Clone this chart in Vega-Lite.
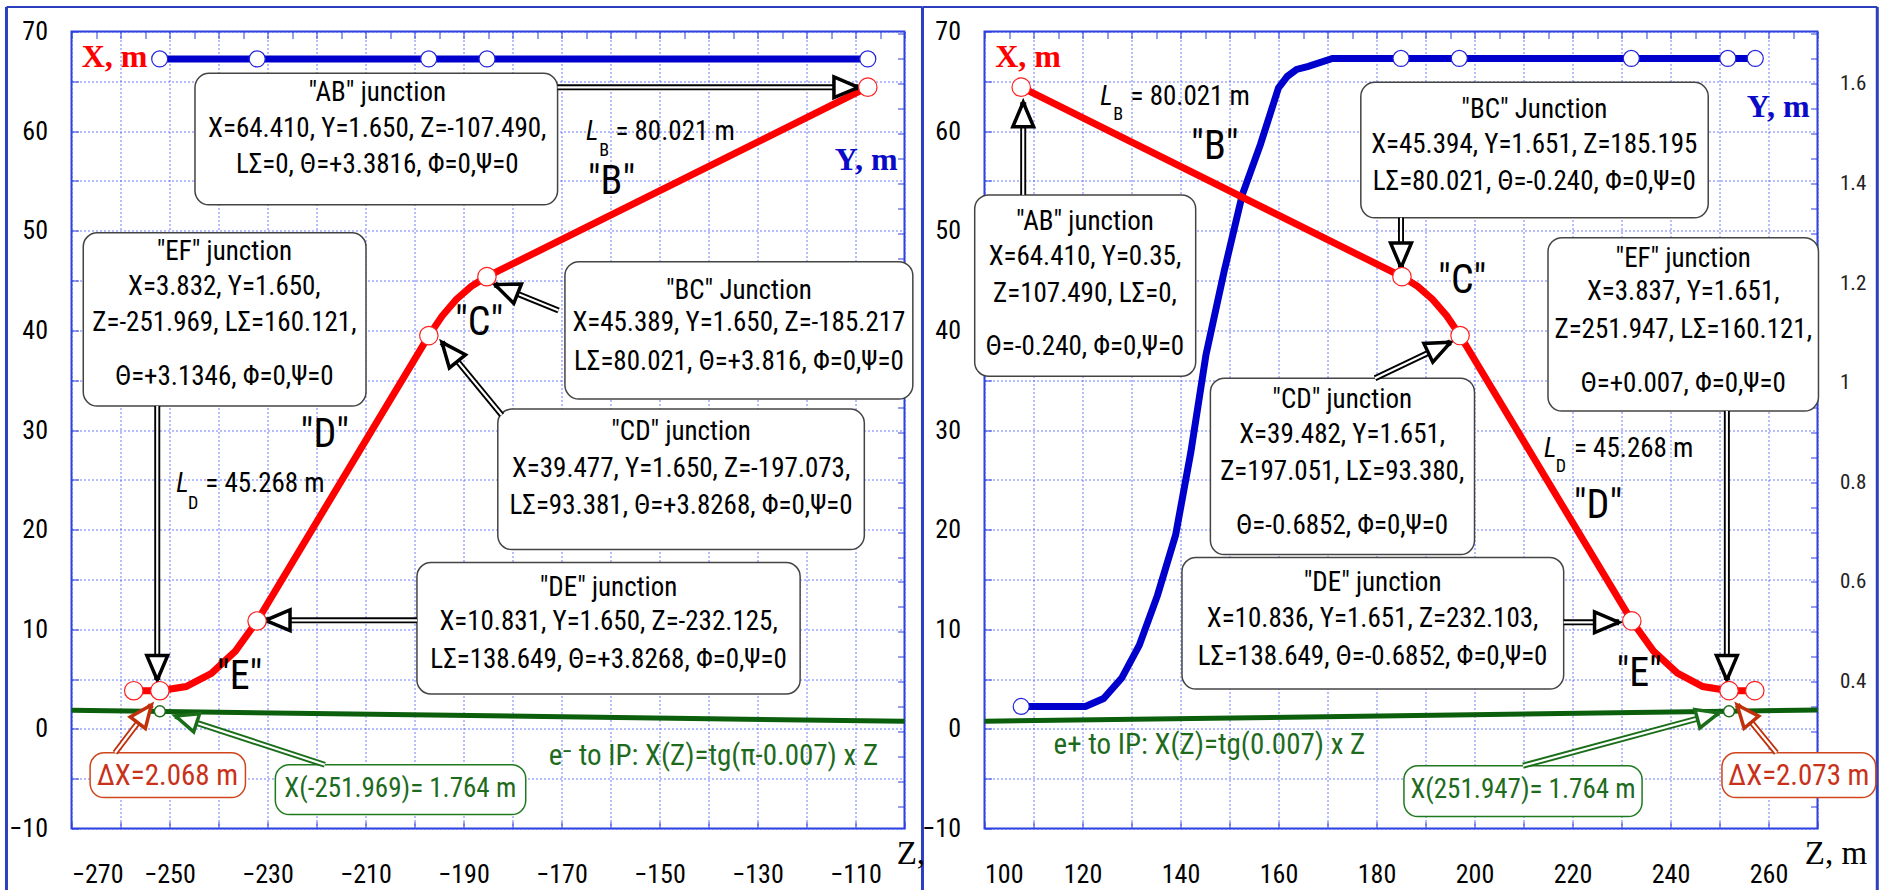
{
  "$schema": "https://vega.github.io/schema/vega-lite/v6.json",
  "background": "white",
  "padding": {"left": 3.5, "top": 3.5, "right": 0, "bottom": 0},
  "spacing": 80,
  "bounds": "flush",
  "datasets": {
    "blueL": [{"Z": -252.2, "Y": 1.65}, {"Z": -107.49, "Y": 1.65}],
    "blueCL": [{"Z": -252.0, "Y": 1.65}, {"Z": -232.1, "Y": 1.65}, {"Z": -197.1, "Y": 1.65}, {"Z": -185.2, "Y": 1.65}, {"Z": -107.49, "Y": 1.65}],
    "greenL": [{"Z": -270, "X": 1.86}, {"Z": -100, "X": 0.76}],
    "redL": [{"Z": -107.49, "X": 64.41}, {"Z": -185.217, "X": 45.389}, {"Z": -188.41, "X": 44.42}, {"Z": -191.47, "X": 43.1}, {"Z": -194.37, "X": 41.44}, {"Z": -197.073, "X": 39.477}, {"Z": -232.125, "X": 10.831}, {"Z": -236.55, "X": 7.81}, {"Z": -241.43, "X": 5.58}, {"Z": -246.62, "X": 4.25}, {"Z": -251.969, "X": 3.832}, {"Z": -257.3, "X": 3.832}],
    "redCL": [{"Z": -107.49, "X": 64.41}, {"Z": -185.217, "X": 45.389}, {"Z": -197.073, "X": 39.477}, {"Z": -232.125, "X": 10.831}, {"Z": -251.969, "X": 3.832}, {"Z": -257.3, "X": 3.832}],
    "greenPL": [{"Z": -251.969, "X": 1.764}],
    "boxL": [
      {"Z": -244.8, "Z2": -170.8, "X": 52.6, "X2": 65.8},
      {"Z": -267.6, "Z2": -209.9, "X": 32.4, "X2": 49.8},
      {"Z": -169.3, "Z2": -98.3, "X": 33.1, "X2": 46.9},
      {"Z": -183.0, "Z2": -108.2, "X": 18.0, "X2": 32.1},
      {"Z": -199.5, "Z2": -121.3, "X": 3.5, "X2": 16.7}
    ],
    "redBoxL": [{"Z": -266.2, "Z2": -234.5, "X": -6.9, "X2": -2.4}],
    "greenBoxL": [{"Z": -228.4, "Z2": -177.3, "X": -8.6, "X2": -3.6}],
    "arrL": [
      {"Z": -170.8, "X": 64.4, "Z2": -109.4, "X2": 64.4, "ang": 0},
      {"Z": -252.5, "X": 32.4, "Z2": -252.5, "X2": 4.9, "ang": 90},
      {"Z": -170.6, "X": 42.0, "Z2": -183.6, "X2": 44.6, "ang": 201.8},
      {"Z": -182.2, "X": 31.5, "Z2": -194.4, "X2": 38.8, "ang": 230.8},
      {"Z": -199.5, "X": 10.9, "Z2": -230.4, "X2": 10.9, "ang": 180}
    ],
    "arrRedL": [{"Z": -261.1, "X": -2.4, "Z2": -253.7, "X2": 2.4, "ang": 307.4}],
    "arrGreenL": [{"Z": -218.3, "X": -3.6, "Z2": -248.8, "X2": 1.3, "ang": 198.1}],
    "txtL": [
      {"Z": -207.6, "X": 63.8, "t": "\"AB\" junction"},
      {"Z": -207.6, "X": 60.2, "t": "X=64.410, Y=1.650, Z=-107.490,"},
      {"Z": -207.6, "X": 56.6, "t": "LΣ=0, Θ=+3.3816, Φ=0,Ψ=0"},
      {"Z": -238.8, "X": 47.9, "t": "\"EF\" junction"},
      {"Z": -238.8, "X": 44.35, "t": "X=3.832, Y=1.650,"},
      {"Z": -238.8, "X": 40.7, "t": "Z=-251.969, LΣ=160.121,"},
      {"Z": -238.8, "X": 35.3, "t": "Θ=+3.1346, Φ=0,Ψ=0"},
      {"Z": -133.8, "X": 44.0, "t": "\"BC\" Junction"},
      {"Z": -133.8, "X": 40.7, "t": "X=45.389, Y=1.650, Z=-185.217"},
      {"Z": -133.8, "X": 36.8, "t": "LΣ=80.021, Θ=+3.816, Φ=0,Ψ=0"},
      {"Z": -145.6, "X": 29.8, "t": "\"CD\" junction"},
      {"Z": -145.6, "X": 26.1, "t": "X=39.477, Y=1.650, Z=-197.073,"},
      {"Z": -145.6, "X": 22.4, "t": "LΣ=93.381, Θ=+3.8268, Φ=0,Ψ=0"},
      {"Z": -160.4, "X": 14.1, "t": "\"DE\" junction"},
      {"Z": -160.4, "X": 10.7, "t": "X=10.831, Y=1.650, Z=-232.125,"},
      {"Z": -160.4, "X": 6.9, "t": "LΣ=138.649, Θ=+3.8268, Φ=0,Ψ=0"}
    ],
    "redTxtL": [{"Z": -250.4, "X": -4.7, "t": "ΔX=2.068 m"}],
    "greenTxtL": [{"Z": -202.9, "X": -6.0, "t": "X(-251.969)= 1.764 m"}],
    "formulaL": [{"Z": -139.0, "X": -2.7, "t": "e⁻ to IP: X(Z)=tg(π-0.007) x Z"}],
    "quoteL": [{"Z": -159.8, "X": 54.9, "t": "\"B\""}, {"Z": -186.8, "X": 40.7, "t": "\"C\""}, {"Z": -218.3, "X": 29.5, "t": "\"D\""}, {"Z": -235.7, "X": 5.2, "t": "\"E\""}],
    "lL": [{"Z": -165.0, "X": 59.9, "t": "L"}, {"Z": -248.6, "X": 24.6, "t": "L"}],
    "subL": [{"Z": -162.3, "X": 58.0, "t": "B"}, {"Z": -246.2, "X": 22.6, "t": "D"}],
    "eqL": [{"Z": -159.0, "X": 59.9, "t": "= 80.021 m"}, {"Z": -242.7, "X": 24.6, "t": "= 45.268 m"}],
    "xmL": [{"Z": -261.2, "X": 67.4, "t": "X, m"}],
    "ymL": [{"Z": -101.4, "X": 57.1, "t": "Y, m"}],
    "zL": [{"Z": -101.6, "X": -12.6, "t": "Z,"}],

    "blueR": [{"Z": 107.49, "Y": 0.35}, {"Z": 120.6, "Y": 0.35}, {"Z": 124.3, "Y": 0.366}, {"Z": 128, "Y": 0.407}, {"Z": 131.6, "Y": 0.473}, {"Z": 135.3, "Y": 0.573}, {"Z": 139, "Y": 0.694}, {"Z": 142.1, "Y": 0.86}, {"Z": 145.2, "Y": 1.056}, {"Z": 148.9, "Y": 1.223}, {"Z": 152.6, "Y": 1.377}, {"Z": 156.3, "Y": 1.478}, {"Z": 160, "Y": 1.592}, {"Z": 161.8, "Y": 1.615}, {"Z": 163.7, "Y": 1.629}, {"Z": 166.1, "Y": 1.635}, {"Z": 171, "Y": 1.651}, {"Z": 257.3, "Y": 1.651}],
    "blueCR": [{"Z": 107.49, "Y": 0.35}, {"Z": 185.0, "Y": 1.651}, {"Z": 196.9, "Y": 1.651}, {"Z": 232.0, "Y": 1.651}, {"Z": 251.7, "Y": 1.651}, {"Z": 257.3, "Y": 1.651}],
    "greenR": [{"Z": 100, "X": 0.76}, {"Z": 270, "X": 1.9}],
    "redR": [{"Z": 107.49, "X": 64.41}, {"Z": 185.195, "X": 45.394}, {"Z": 188.39, "X": 44.42}, {"Z": 191.45, "X": 43.1}, {"Z": 194.35, "X": 41.45}, {"Z": 197.051, "X": 39.482}, {"Z": 232.103, "X": 10.836}, {"Z": 236.53, "X": 7.81}, {"Z": 241.4, "X": 5.59}, {"Z": 246.59, "X": 4.25}, {"Z": 251.947, "X": 3.837}, {"Z": 257.2, "X": 3.837}],
    "redCR": [{"Z": 107.49, "X": 64.41}, {"Z": 185.195, "X": 45.394}, {"Z": 197.051, "X": 39.482}, {"Z": 232.103, "X": 10.836}, {"Z": 251.947, "X": 3.837}, {"Z": 257.2, "X": 3.837}],
    "greenPR": [{"Z": 251.947, "X": 1.764}],
    "boxR": [
      {"Z": 98.0, "Z2": 143.1, "X": 35.4, "X2": 53.6},
      {"Z": 176.8, "Z2": 247.7, "X": 51.3, "X2": 64.9},
      {"Z": 215.0, "Z2": 270.2, "X": 31.9, "X2": 49.3},
      {"Z": 146.1, "Z2": 200.0, "X": 17.5, "X2": 35.2},
      {"Z": 140.3, "Z2": 218.2, "X": 4.0, "X2": 17.2}
    ],
    "redBoxR": [{"Z": 250.5, "Z2": 281.9, "X": -6.9, "X2": -2.4}],
    "greenBoxR": [{"Z": 185.6, "Z2": 234.2, "X": -8.8, "X2": -3.7}],
    "arrR": [
      {"Z": 107.9, "X": 53.6, "Z2": 107.9, "X2": 62.9, "ang": 270},
      {"Z": 185.0, "X": 51.3, "Z2": 185.0, "X2": 46.3, "ang": 90},
      {"Z": 179.7, "X": 35.2, "Z2": 195.1, "X2": 38.8, "ang": 334.7},
      {"Z": 218.2, "X": 10.7, "Z2": 229.5, "X2": 10.7, "ang": 0},
      {"Z": 251.5, "X": 31.9, "Z2": 251.5, "X2": 4.9, "ang": 90}
    ],
    "arrRedR": [{"Z": 261.6, "X": -2.4, "Z2": 253.6, "X2": 2.4, "ang": 230.3}],
    "arrGreenR": [{"Z": 209.9, "X": -3.7, "Z2": 249.9, "X2": 1.6, "ang": 344.9}],
    "txtR": [
      {"Z": 120.5, "X": 50.9, "t": "\"AB\" junction"},
      {"Z": 120.5, "X": 47.4, "t": "X=64.410, Y=0.35,"},
      {"Z": 120.5, "X": 43.7, "t": "Z=107.490, LΣ=0,"},
      {"Z": 120.5, "X": 38.3, "t": "Θ=-0.240, Φ=0,Ψ=0"},
      {"Z": 212.2, "X": 62.1, "t": "\"BC\" Junction"},
      {"Z": 212.2, "X": 58.6, "t": "X=45.394, Y=1.651, Z=185.195"},
      {"Z": 212.2, "X": 54.9, "t": "LΣ=80.021, Θ=-0.240, Φ=0,Ψ=0"},
      {"Z": 242.6, "X": 47.2, "t": "\"EF\" junction"},
      {"Z": 242.6, "X": 43.85, "t": "X=3.837, Y=1.651,"},
      {"Z": 242.6, "X": 40.0, "t": "Z=251.947, LΣ=160.121,"},
      {"Z": 242.6, "X": 34.6, "t": "Θ=+0.007, Φ=0,Ψ=0"},
      {"Z": 173.0, "X": 33.0, "t": "\"CD\" junction"},
      {"Z": 173.0, "X": 29.5, "t": "X=39.482, Y=1.651,"},
      {"Z": 173.0, "X": 25.8, "t": "Z=197.051, LΣ=93.380,"},
      {"Z": 173.0, "X": 20.4, "t": "Θ=-0.6852, Φ=0,Ψ=0"},
      {"Z": 179.2, "X": 14.6, "t": "\"DE\" junction"},
      {"Z": 179.2, "X": 11.0, "t": "X=10.836, Y=1.651, Z=232.103,"},
      {"Z": 179.2, "X": 7.2, "t": "LΣ=138.649, Θ=-0.6852, Φ=0,Ψ=0"}
    ],
    "redTxtR": [{"Z": 266.2, "X": -4.7, "t": "ΔX=2.073 m"}],
    "greenTxtR": [{"Z": 209.9, "X": -6.1, "t": "X(251.947)= 1.764 m"}],
    "formulaR": [{"Z": 145.9, "X": -1.6, "t": "e+ to IP: X(Z)=tg(0.007) x Z"}],
    "quoteR": [{"Z": 147.0, "X": 58.4, "t": "\"B\""}, {"Z": 197.5, "X": 45.0, "t": "\"C\""}, {"Z": 225.2, "X": 22.4, "t": "\"D\""}, {"Z": 233.6, "X": 5.5, "t": "\"E\""}],
    "lR": [{"Z": 123.6, "X": 63.4, "t": "L"}, {"Z": 214.2, "X": 28.1, "t": "L"}],
    "subR": [{"Z": 126.3, "X": 61.6, "t": "B"}, {"Z": 216.6, "X": 26.3, "t": "D"}],
    "eqR": [{"Z": 129.8, "X": 63.4, "t": "= 80.021 m"}, {"Z": 220.3, "X": 28.1, "t": "= 45.268 m"}],
    "xmR": [{"Z": 108.9, "X": 67.4, "t": "X, m"}],
    "ymR": [{"Z": 268.4, "X": 62.4, "t": "Y, m"}],
    "zR": [{"Z": 267.4, "X": -12.6, "t": "Z, m"}]
  },
  "hconcat": [
    {
      "width": 833,
      "height": 797,
      "layer": [
        {
          "encoding": {
            "x": {"field": "Z", "type": "quantitative", "title": null, "scale": {"domain": [-270, -100], "nice": false, "zero": false},
              "axis": {"orient": "top", "values": [-270, -265, -260, -255, -250, -245, -240, -235, -230, -225, -220, -215, -210, -205, -200, -195, -190, -185, -180, -175, -170, -165, -160, -155, -150, -145, -140, -135, -130, -125, -120, -115, -110, -105, -100], "labels": false, "grid": false}},
            "y": {"field": "Y", "type": "quantitative", "title": null, "scale": {"domain": [0.105, 1.705], "nice": false, "zero": false},
              "axis": {"orient": "right", "values": [0.15, 0.2, 0.25, 0.3, 0.35, 0.4, 0.45, 0.5, 0.55, 0.6, 0.65, 0.7, 0.75, 0.8, 0.85, 0.9, 0.95, 1, 1.05, 1.1, 1.15, 1.2, 1.25, 1.3, 1.35, 1.4, 1.45, 1.5, 1.55, 1.6, 1.65, 1.7], "labels": false, "grid": false}}
          },
          "layer": [
            {"data": {"name": "blueL"}, "mark": {"type": "line", "color": "#0000cc", "strokeWidth": 7}},
            {"data": {"name": "blueCL"}, "mark": {"type": "point", "shape": "circle", "size": 256, "filled": true, "fill": "white", "stroke": "#2222dd", "strokeWidth": 1.2, "opacity": 1}}
          ]
        },
        {
          "layer": [
            {
              "layer": [
                {"data": {"values": [{}]}, "mark": {"type": "rule", "color": "#2c3fbf", "strokeWidth": 3}, "encoding": {"x": {"datum": -96.33, "type": "quantitative", "title": null}, "y": {"datum": 72.46, "type": "quantitative", "title": null}, "y2": {"datum": -16.4}}},
                {"data": {"values": [{}]}, "mark": {"type": "rule", "color": "#2c3fbf", "strokeWidth": 3}, "encoding": {"x": {"datum": -283.27, "type": "quantitative", "title": null}, "y": {"datum": 72.46, "type": "quantitative", "title": null}, "y2": {"datum": -16.4}}},
                {"data": {"values": [{}]}, "mark": {"type": "rule", "color": "#2c3fbf", "strokeWidth": 2}, "encoding": {"x": {"datum": -283.27, "type": "quantitative", "title": null}, "x2": {"datum": -96.33}, "y": {"datum": 72.46, "type": "quantitative", "title": null}}}
              ]
            },
            {
              "encoding": {
                "x": {"field": "Z", "type": "quantitative", "title": null, "scale": {"domain": [-270, -100], "nice": false, "zero": false},
                  "axis": {"orient": "bottom", "values": [-270, -260, -250, -240, -230, -220, -210, -200, -190, -180, -170, -160, -150, -140, -130, -120, -110, -100], "labelExpr": "abs(datum.value) % 20 == 10 ? datum.label : ''", "grid": true}},
                "y": {"field": "X", "type": "quantitative", "title": null, "scale": {"domain": [-10, 70], "nice": false, "zero": false},
                  "axis": {"values": [-10, -5, 0, 5, 10, 15, 20, 25, 30, 35, 40, 45, 50, 55, 60, 65, 70], "labelExpr": "datum.value % 10 == 0 ? datum.label : ''", "grid": true}}
              },
              "layer": [
                {"data": {"name": "greenL"}, "mark": {"type": "line", "color": "#0b5e0b", "strokeWidth": 5}},
                {"data": {"name": "redL"}, "mark": {"type": "line", "color": "#ff0000", "strokeWidth": 7}},
                {"data": {"name": "boxL"}, "mark": {"type": "rect", "fill": "white", "stroke": "#444444", "strokeWidth": 1.5, "cornerRadius": 14}, "encoding": {"x2": {"field": "Z2"}, "y2": {"field": "X2"}}},
                {"data": {"name": "redBoxL"}, "mark": {"type": "rect", "fill": "white", "stroke": "#d0451b", "strokeWidth": 1.5, "cornerRadius": 14}, "encoding": {"x2": {"field": "Z2"}, "y2": {"field": "X2"}}},
                {"data": {"name": "greenBoxL"}, "mark": {"type": "rect", "fill": "white", "stroke": "#1f7a1f", "strokeWidth": 1.5, "cornerRadius": 14}, "encoding": {"x2": {"field": "Z2"}, "y2": {"field": "X2"}}},
                {"data": {"name": "arrL"}, "mark": {"type": "rule", "color": "#000000", "strokeWidth": 6}, "encoding": {"x2": {"field": "Z2"}, "y2": {"field": "X2"}}},
                {"data": {"name": "arrL"}, "mark": {"type": "rule", "color": "#ffffff", "strokeWidth": 2.2}, "encoding": {"x2": {"field": "Z2"}, "y2": {"field": "X2"}}},
                {"data": {"name": "arrRedL"}, "mark": {"type": "rule", "color": "#c0300a", "strokeWidth": 6}, "encoding": {"x2": {"field": "Z2"}, "y2": {"field": "X2"}}},
                {"data": {"name": "arrRedL"}, "mark": {"type": "rule", "color": "#ffffff", "strokeWidth": 2.2}, "encoding": {"x2": {"field": "Z2"}, "y2": {"field": "X2"}}},
                {"data": {"name": "arrGreenL"}, "mark": {"type": "rule", "color": "#1a6e1a", "strokeWidth": 6}, "encoding": {"x2": {"field": "Z2"}, "y2": {"field": "X2"}}},
                {"data": {"name": "arrGreenL"}, "mark": {"type": "rule", "color": "#ffffff", "strokeWidth": 2.2}, "encoding": {"x2": {"field": "Z2"}, "y2": {"field": "X2"}}},
                {"data": {"name": "arrL"}, "mark": {"type": "point", "shape": "M0,0L-2,-0.85L-2,0.85Z", "size": 600, "filled": true, "fill": "white", "stroke": "#000000", "strokeWidth": 3.5, "opacity": 1}, "encoding": {"x": {"field": "Z2", "type": "quantitative"}, "y": {"field": "X2", "type": "quantitative"}, "angle": {"field": "ang", "type": "quantitative", "scale": null}}},
                {"data": {"name": "arrRedL"}, "mark": {"type": "point", "shape": "M0,0L-2,-0.85L-2,0.85Z", "size": 500, "filled": true, "fill": "white", "stroke": "#c0300a", "strokeWidth": 3.5, "opacity": 1}, "encoding": {"x": {"field": "Z2", "type": "quantitative"}, "y": {"field": "X2", "type": "quantitative"}, "angle": {"field": "ang", "type": "quantitative", "scale": null}}},
                {"data": {"name": "arrGreenL"}, "mark": {"type": "point", "shape": "M0,0L-2,-0.85L-2,0.85Z", "size": 500, "filled": true, "fill": "white", "stroke": "#1a6e1a", "strokeWidth": 3.5, "opacity": 1}, "encoding": {"x": {"field": "Z2", "type": "quantitative"}, "y": {"field": "X2", "type": "quantitative"}, "angle": {"field": "ang", "type": "quantitative", "scale": null}}},
                {"data": {"name": "redCL"}, "mark": {"type": "point", "shape": "circle", "size": 340, "filled": true, "fill": "white", "stroke": "#ff2020", "strokeWidth": 1.2, "opacity": 1}},
                {"data": {"name": "greenPL"}, "mark": {"type": "point", "shape": "circle", "size": 120, "filled": true, "fill": "white", "stroke": "#1a6e1a", "strokeWidth": 1.5, "opacity": 1}},
                {"data": {"name": "txtL"}, "mark": {"type": "text", "font": "Roboto Condensed, Liberation Sans Narrow, Liberation Sans, sans-serif", "fontSize": 27, "align": "center", "baseline": "middle", "color": "#000000"}, "encoding": {"text": {"field": "t"}}},
                {"data": {"name": "redTxtL"}, "mark": {"type": "text", "font": "Roboto Condensed, Liberation Sans Narrow, Liberation Sans, sans-serif", "fontSize": 29, "align": "center", "baseline": "middle", "color": "#c8321a"}, "encoding": {"text": {"field": "t"}}},
                {"data": {"name": "greenTxtL"}, "mark": {"type": "text", "font": "Roboto Condensed, Liberation Sans Narrow, Liberation Sans, sans-serif", "fontSize": 27, "align": "center", "baseline": "middle", "color": "#1e6b1e"}, "encoding": {"text": {"field": "t"}}},
                {"data": {"name": "formulaL"}, "mark": {"type": "text", "font": "Roboto Condensed, Liberation Sans Narrow, Liberation Sans, sans-serif", "fontSize": 29, "align": "center", "baseline": "middle", "color": "#1e6b1e"}, "encoding": {"text": {"field": "t"}}},
                {"data": {"name": "quoteL"}, "mark": {"type": "text", "font": "Roboto Condensed, Liberation Sans Narrow, Liberation Sans, sans-serif", "fontSize": 40, "align": "center", "baseline": "middle", "color": "#000000"}, "encoding": {"text": {"field": "t"}}},
                {"data": {"name": "lL"}, "mark": {"type": "text", "font": "Roboto Condensed, Liberation Sans Narrow, Liberation Sans, sans-serif", "fontSize": 27, "fontStyle": "italic", "align": "left", "baseline": "middle", "color": "#000000"}, "encoding": {"text": {"field": "t"}}},
                {"data": {"name": "subL"}, "mark": {"type": "text", "font": "Roboto Condensed, Liberation Sans Narrow, Liberation Sans, sans-serif", "fontSize": 18, "align": "left", "baseline": "middle", "color": "#000000"}, "encoding": {"text": {"field": "t"}}},
                {"data": {"name": "eqL"}, "mark": {"type": "text", "font": "Roboto Condensed, Liberation Sans Narrow, Liberation Sans, sans-serif", "fontSize": 27, "align": "left", "baseline": "middle", "color": "#000000"}, "encoding": {"text": {"field": "t"}}},
                {"data": {"name": "xmL"}, "mark": {"type": "text", "font": "Liberation Serif, Times New Roman, serif", "fontSize": 32, "fontWeight": "bold", "align": "center", "baseline": "middle", "color": "#ff0000"}, "encoding": {"text": {"field": "t"}}},
                {"data": {"name": "ymL"}, "mark": {"type": "text", "font": "Liberation Serif, Times New Roman, serif", "fontSize": 32, "fontWeight": "bold", "align": "right", "baseline": "middle", "color": "#0a0ac8"}, "encoding": {"text": {"field": "t"}}},
                {"data": {"name": "zL"}, "mark": {"type": "text", "font": "Liberation Serif, Times New Roman, serif", "fontSize": 33, "align": "left", "baseline": "middle", "color": "#000000"}, "encoding": {"text": {"field": "t"}}}
              ]
            }
          ]
        }
      ],
      "resolve": {"scale": {"y": "independent"}, "axis": {"x": "independent"}}
    },
    {
      "width": 833,
      "height": 797,
      "layer": [
        {
          "encoding": {
            "x": {"field": "Z", "type": "quantitative", "title": null, "scale": {"domain": [100, 270], "nice": false, "zero": false},
              "axis": {"orient": "top", "values": [100, 105, 110, 115, 120, 125, 130, 135, 140, 145, 150, 155, 160, 165, 170, 175, 180, 185, 190, 195, 200, 205, 210, 215, 220, 225, 230, 235, 240, 245, 250, 255, 260, 265, 270], "labels": false, "grid": false}},
            "y": {"field": "Y", "type": "quantitative", "title": null, "scale": {"domain": [0.105, 1.705], "nice": false, "zero": false},
              "axis": {"orient": "right", "values": [0.15, 0.2, 0.25, 0.3, 0.35, 0.4, 0.45, 0.5, 0.55, 0.6, 0.65, 0.7, 0.75, 0.8, 0.85, 0.9, 0.95, 1, 1.05, 1.1, 1.15, 1.2, 1.25, 1.3, 1.35, 1.4, 1.45, 1.5, 1.55, 1.6, 1.65, 1.7], "labelExpr": "round(datum.value*100) % 20 == 0 && datum.value > 0.3 ? format(datum.value, '.1~f') : ''", "grid": false, "labelFontSize": 21, "labelPadding": 29, "labelColor": "#222222"}}
          },
          "layer": [
            {"data": {"name": "blueR"}, "mark": {"type": "line", "color": "#0000cc", "strokeWidth": 7}},
            {"data": {"name": "blueCR"}, "mark": {"type": "point", "shape": "circle", "size": 256, "filled": true, "fill": "white", "stroke": "#2222dd", "strokeWidth": 1.2, "opacity": 1}}
          ]
        },
        {
          "layer": [
            {
              "layer": [
                {"data": {"values": [{}]}, "mark": {"type": "rule", "color": "#2c3fbf", "strokeWidth": 3}, "encoding": {"x": {"datum": 282.2, "type": "quantitative", "title": null}, "y": {"datum": 72.46, "type": "quantitative", "title": null}, "y2": {"datum": -16.4}}},
                {"data": {"values": [{}]}, "mark": {"type": "rule", "color": "#2c3fbf", "strokeWidth": 2}, "encoding": {"x": {"datum": 87.4, "type": "quantitative", "title": null}, "x2": {"datum": 282.2}, "y": {"datum": 72.46, "type": "quantitative", "title": null}}}
              ]
            },
            {
              "encoding": {
                "x": {"field": "Z", "type": "quantitative", "title": null, "scale": {"domain": [100, 270], "nice": false, "zero": false},
                  "axis": {"orient": "bottom", "values": [100, 110, 120, 130, 140, 150, 160, 170, 180, 190, 200, 210, 220, 230, 240, 250, 260, 270], "labelExpr": "datum.value % 20 == 0 ? datum.label : ''", "grid": true}},
                "y": {"field": "X", "type": "quantitative", "title": null, "scale": {"domain": [-10, 70], "nice": false, "zero": false},
                  "axis": {"orient": "left", "values": [-10, -5, 0, 5, 10, 15, 20, 25, 30, 35, 40, 45, 50, 55, 60, 65, 70], "labelExpr": "datum.value % 10 == 0 ? datum.label : ''", "grid": true}}
              },
              "layer": [
                {"data": {"name": "greenR"}, "mark": {"type": "line", "color": "#0b5e0b", "strokeWidth": 5}},
                {"data": {"name": "redR"}, "mark": {"type": "line", "color": "#ff0000", "strokeWidth": 7}},
                {"data": {"name": "boxR"}, "mark": {"type": "rect", "fill": "white", "stroke": "#444444", "strokeWidth": 1.5, "cornerRadius": 14}, "encoding": {"x2": {"field": "Z2"}, "y2": {"field": "X2"}}},
                {"data": {"name": "redBoxR"}, "mark": {"type": "rect", "fill": "white", "stroke": "#d0451b", "strokeWidth": 1.5, "cornerRadius": 14}, "encoding": {"x2": {"field": "Z2"}, "y2": {"field": "X2"}}},
                {"data": {"name": "greenBoxR"}, "mark": {"type": "rect", "fill": "white", "stroke": "#1f7a1f", "strokeWidth": 1.5, "cornerRadius": 14}, "encoding": {"x2": {"field": "Z2"}, "y2": {"field": "X2"}}},
                {"data": {"name": "arrR"}, "mark": {"type": "rule", "color": "#000000", "strokeWidth": 6}, "encoding": {"x2": {"field": "Z2"}, "y2": {"field": "X2"}}},
                {"data": {"name": "arrR"}, "mark": {"type": "rule", "color": "#ffffff", "strokeWidth": 2.2}, "encoding": {"x2": {"field": "Z2"}, "y2": {"field": "X2"}}},
                {"data": {"name": "arrRedR"}, "mark": {"type": "rule", "color": "#c0300a", "strokeWidth": 6}, "encoding": {"x2": {"field": "Z2"}, "y2": {"field": "X2"}}},
                {"data": {"name": "arrRedR"}, "mark": {"type": "rule", "color": "#ffffff", "strokeWidth": 2.2}, "encoding": {"x2": {"field": "Z2"}, "y2": {"field": "X2"}}},
                {"data": {"name": "arrGreenR"}, "mark": {"type": "rule", "color": "#1a6e1a", "strokeWidth": 6}, "encoding": {"x2": {"field": "Z2"}, "y2": {"field": "X2"}}},
                {"data": {"name": "arrGreenR"}, "mark": {"type": "rule", "color": "#ffffff", "strokeWidth": 2.2}, "encoding": {"x2": {"field": "Z2"}, "y2": {"field": "X2"}}},
                {"data": {"name": "arrR"}, "mark": {"type": "point", "shape": "M0,0L-2,-0.85L-2,0.85Z", "size": 600, "filled": true, "fill": "white", "stroke": "#000000", "strokeWidth": 3.5, "opacity": 1}, "encoding": {"x": {"field": "Z2", "type": "quantitative"}, "y": {"field": "X2", "type": "quantitative"}, "angle": {"field": "ang", "type": "quantitative", "scale": null}}},
                {"data": {"name": "arrRedR"}, "mark": {"type": "point", "shape": "M0,0L-2,-0.85L-2,0.85Z", "size": 500, "filled": true, "fill": "white", "stroke": "#c0300a", "strokeWidth": 3.5, "opacity": 1}, "encoding": {"x": {"field": "Z2", "type": "quantitative"}, "y": {"field": "X2", "type": "quantitative"}, "angle": {"field": "ang", "type": "quantitative", "scale": null}}},
                {"data": {"name": "arrGreenR"}, "mark": {"type": "point", "shape": "M0,0L-2,-0.85L-2,0.85Z", "size": 500, "filled": true, "fill": "white", "stroke": "#1a6e1a", "strokeWidth": 3.5, "opacity": 1}, "encoding": {"x": {"field": "Z2", "type": "quantitative"}, "y": {"field": "X2", "type": "quantitative"}, "angle": {"field": "ang", "type": "quantitative", "scale": null}}},
                {"data": {"name": "redCR"}, "mark": {"type": "point", "shape": "circle", "size": 340, "filled": true, "fill": "white", "stroke": "#ff2020", "strokeWidth": 1.2, "opacity": 1}},
                {"data": {"name": "greenPR"}, "mark": {"type": "point", "shape": "circle", "size": 120, "filled": true, "fill": "white", "stroke": "#1a6e1a", "strokeWidth": 1.5, "opacity": 1}},
                {"data": {"name": "txtR"}, "mark": {"type": "text", "font": "Roboto Condensed, Liberation Sans Narrow, Liberation Sans, sans-serif", "fontSize": 27, "align": "center", "baseline": "middle", "color": "#000000"}, "encoding": {"text": {"field": "t"}}},
                {"data": {"name": "redTxtR"}, "mark": {"type": "text", "font": "Roboto Condensed, Liberation Sans Narrow, Liberation Sans, sans-serif", "fontSize": 29, "align": "center", "baseline": "middle", "color": "#c8321a"}, "encoding": {"text": {"field": "t"}}},
                {"data": {"name": "greenTxtR"}, "mark": {"type": "text", "font": "Roboto Condensed, Liberation Sans Narrow, Liberation Sans, sans-serif", "fontSize": 27, "align": "center", "baseline": "middle", "color": "#1e6b1e"}, "encoding": {"text": {"field": "t"}}},
                {"data": {"name": "formulaR"}, "mark": {"type": "text", "font": "Roboto Condensed, Liberation Sans Narrow, Liberation Sans, sans-serif", "fontSize": 29, "align": "center", "baseline": "middle", "color": "#1e6b1e"}, "encoding": {"text": {"field": "t"}}},
                {"data": {"name": "quoteR"}, "mark": {"type": "text", "font": "Roboto Condensed, Liberation Sans Narrow, Liberation Sans, sans-serif", "fontSize": 40, "align": "center", "baseline": "middle", "color": "#000000"}, "encoding": {"text": {"field": "t"}}},
                {"data": {"name": "lR"}, "mark": {"type": "text", "font": "Roboto Condensed, Liberation Sans Narrow, Liberation Sans, sans-serif", "fontSize": 27, "fontStyle": "italic", "align": "left", "baseline": "middle", "color": "#000000"}, "encoding": {"text": {"field": "t"}}},
                {"data": {"name": "subR"}, "mark": {"type": "text", "font": "Roboto Condensed, Liberation Sans Narrow, Liberation Sans, sans-serif", "fontSize": 18, "align": "left", "baseline": "middle", "color": "#000000"}, "encoding": {"text": {"field": "t"}}},
                {"data": {"name": "eqR"}, "mark": {"type": "text", "font": "Roboto Condensed, Liberation Sans Narrow, Liberation Sans, sans-serif", "fontSize": 27, "align": "left", "baseline": "middle", "color": "#000000"}, "encoding": {"text": {"field": "t"}}},
                {"data": {"name": "xmR"}, "mark": {"type": "text", "font": "Liberation Serif, Times New Roman, serif", "fontSize": 32, "fontWeight": "bold", "align": "center", "baseline": "middle", "color": "#ff0000"}, "encoding": {"text": {"field": "t"}}},
                {"data": {"name": "ymR"}, "mark": {"type": "text", "font": "Liberation Serif, Times New Roman, serif", "fontSize": 32, "fontWeight": "bold", "align": "right", "baseline": "middle", "color": "#0a0ac8"}, "encoding": {"text": {"field": "t"}}},
                {"data": {"name": "zR"}, "mark": {"type": "text", "font": "Liberation Serif, Times New Roman, serif", "fontSize": 33, "align": "left", "baseline": "middle", "color": "#000000"}, "encoding": {"text": {"field": "t"}}}
              ]
            }
          ]
        }
      ],
      "resolve": {"scale": {"y": "independent"}, "axis": {"x": "independent"}}
    }
  ],
  "resolve": {"scale": {"x": "independent", "y": "independent"}},
  "config": {
    "view": {"stroke": "#2b3fd9", "strokeWidth": 2},
    "axis": {"labelFont": "Roboto Condensed, Liberation Sans Narrow, Liberation Sans, sans-serif", "labelFontSize": 26, "labelColor": "#000000", "labelOverlap": false, "domain": false, "ticks": true, "tickSize": -7, "tickColor": "#2b3fd9", "tickWidth": 1, "gridColor": "#3f51ff", "gridDash": [2, 2], "gridOpacity": 0.75, "gridWidth": 1},
    "axisX": {"labelPadding": 40},
    "axisY": {"labelPadding": 31}
  }
}
